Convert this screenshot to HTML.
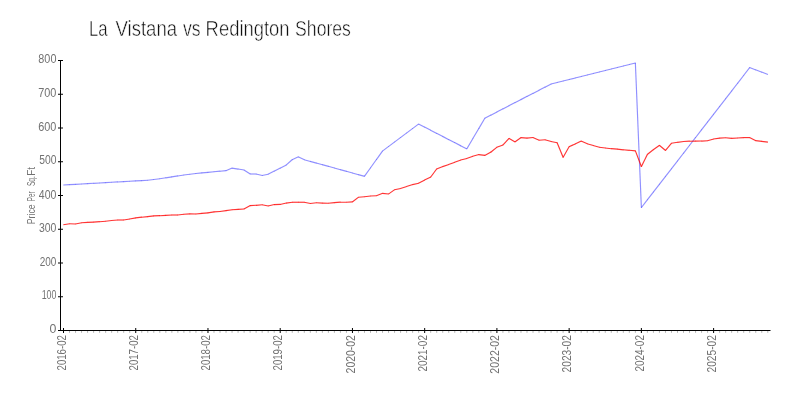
<!DOCTYPE html>
<html><head><meta charset="utf-8"><title>La Vistana vs Redington Shores</title>
<style>
html,body{margin:0;padding:0;background:#fff;}
body{width:800px;height:400px;overflow:hidden;font-family:"Liberation Sans",sans-serif;}
svg text{font-family:"Liberation Sans",sans-serif;}
.t{opacity:.999;}
</style></head><body>
<svg width="800" height="400" viewBox="0 0 800 400" style="display:block">
<rect width="800" height="400" fill="#fff"/>
<g class="t">
<text x="88.92" y="35.7" font-size="21.2" fill="#111" stroke="#fff" stroke-width="0.5" textLength="18.68" lengthAdjust="spacingAndGlyphs">La</text>
<text x="115.52" y="35.7" font-size="21.2" fill="#111" stroke="#fff" stroke-width="0.5" textLength="61.58" lengthAdjust="spacingAndGlyphs">Vistana</text>
<text x="183.04" y="35.7" font-size="21.2" fill="#111" stroke="#fff" stroke-width="0.5" textLength="17.60" lengthAdjust="spacingAndGlyphs">vs</text>
<text x="205.59" y="35.7" font-size="21.2" fill="#111" stroke="#fff" stroke-width="0.5" textLength="84.01" lengthAdjust="spacingAndGlyphs">Redington</text>
<text x="295.10" y="35.7" font-size="21.2" fill="#111" stroke="#fff" stroke-width="0.5" textLength="55.84" lengthAdjust="spacingAndGlyphs">Shores</text>
<g fill="#b4b4b4"><rect x="69.02" y="331" width="1" height="1.8"/><rect x="75.04" y="331" width="1" height="1.8"/><rect x="81.06" y="331" width="1" height="1.8"/><rect x="87.08" y="331" width="1" height="1.8"/><rect x="93.10" y="331" width="1" height="1.8"/><rect x="99.12" y="331" width="1" height="1.8"/><rect x="105.14" y="331" width="1" height="1.8"/><rect x="111.16" y="331" width="1" height="1.8"/><rect x="117.18" y="331" width="1" height="1.8"/><rect x="123.19" y="331" width="1" height="1.8"/><rect x="129.21" y="331" width="1" height="1.8"/><rect x="141.25" y="331" width="1" height="1.8"/><rect x="147.27" y="331" width="1" height="1.8"/><rect x="153.29" y="331" width="1" height="1.8"/><rect x="159.31" y="331" width="1" height="1.8"/><rect x="165.33" y="331" width="1" height="1.8"/><rect x="171.35" y="331" width="1" height="1.8"/><rect x="177.37" y="331" width="1" height="1.8"/><rect x="183.39" y="331" width="1" height="1.8"/><rect x="189.41" y="331" width="1" height="1.8"/><rect x="195.43" y="331" width="1" height="1.8"/><rect x="201.45" y="331" width="1" height="1.8"/><rect x="213.49" y="331" width="1" height="1.8"/><rect x="219.51" y="331" width="1" height="1.8"/><rect x="225.53" y="331" width="1" height="1.8"/><rect x="231.55" y="331" width="1" height="1.8"/><rect x="237.57" y="331" width="1" height="1.8"/><rect x="243.59" y="331" width="1" height="1.8"/><rect x="249.60" y="331" width="1" height="1.8"/><rect x="255.62" y="331" width="1" height="1.8"/><rect x="261.64" y="331" width="1" height="1.8"/><rect x="267.66" y="331" width="1" height="1.8"/><rect x="273.68" y="331" width="1" height="1.8"/><rect x="285.72" y="331" width="1" height="1.8"/><rect x="291.74" y="331" width="1" height="1.8"/><rect x="297.76" y="331" width="1" height="1.8"/><rect x="303.78" y="331" width="1" height="1.8"/><rect x="309.80" y="331" width="1" height="1.8"/><rect x="315.82" y="331" width="1" height="1.8"/><rect x="321.84" y="331" width="1" height="1.8"/><rect x="327.86" y="331" width="1" height="1.8"/><rect x="333.88" y="331" width="1" height="1.8"/><rect x="339.90" y="331" width="1" height="1.8"/><rect x="345.92" y="331" width="1" height="1.8"/><rect x="357.96" y="331" width="1" height="1.8"/><rect x="363.97" y="331" width="1" height="1.8"/><rect x="369.99" y="331" width="1" height="1.8"/><rect x="376.01" y="331" width="1" height="1.8"/><rect x="382.03" y="331" width="1" height="1.8"/><rect x="388.05" y="331" width="1" height="1.8"/><rect x="394.07" y="331" width="1" height="1.8"/><rect x="400.09" y="331" width="1" height="1.8"/><rect x="406.11" y="331" width="1" height="1.8"/><rect x="412.13" y="331" width="1" height="1.8"/><rect x="418.15" y="331" width="1" height="1.8"/><rect x="430.19" y="331" width="1" height="1.8"/><rect x="436.21" y="331" width="1" height="1.8"/><rect x="442.23" y="331" width="1" height="1.8"/><rect x="448.25" y="331" width="1" height="1.8"/><rect x="454.27" y="331" width="1" height="1.8"/><rect x="460.29" y="331" width="1" height="1.8"/><rect x="466.31" y="331" width="1" height="1.8"/><rect x="472.33" y="331" width="1" height="1.8"/><rect x="478.35" y="331" width="1" height="1.8"/><rect x="484.37" y="331" width="1" height="1.8"/><rect x="490.38" y="331" width="1" height="1.8"/><rect x="502.42" y="331" width="1" height="1.8"/><rect x="508.44" y="331" width="1" height="1.8"/><rect x="514.46" y="331" width="1" height="1.8"/><rect x="520.48" y="331" width="1" height="1.8"/><rect x="526.50" y="331" width="1" height="1.8"/><rect x="532.52" y="331" width="1" height="1.8"/><rect x="538.54" y="331" width="1" height="1.8"/><rect x="544.56" y="331" width="1" height="1.8"/><rect x="550.58" y="331" width="1" height="1.8"/><rect x="556.60" y="331" width="1" height="1.8"/><rect x="562.62" y="331" width="1" height="1.8"/><rect x="574.66" y="331" width="1" height="1.8"/><rect x="580.68" y="331" width="1" height="1.8"/><rect x="586.70" y="331" width="1" height="1.8"/><rect x="592.72" y="331" width="1" height="1.8"/><rect x="598.74" y="331" width="1" height="1.8"/><rect x="604.75" y="331" width="1" height="1.8"/><rect x="610.77" y="331" width="1" height="1.8"/><rect x="616.79" y="331" width="1" height="1.8"/><rect x="622.81" y="331" width="1" height="1.8"/><rect x="628.83" y="331" width="1" height="1.8"/><rect x="634.85" y="331" width="1" height="1.8"/><rect x="646.89" y="331" width="1" height="1.8"/><rect x="652.91" y="331" width="1" height="1.8"/><rect x="658.93" y="331" width="1" height="1.8"/><rect x="664.95" y="331" width="1" height="1.8"/><rect x="670.97" y="331" width="1" height="1.8"/><rect x="676.99" y="331" width="1" height="1.8"/><rect x="683.01" y="331" width="1" height="1.8"/><rect x="689.03" y="331" width="1" height="1.8"/><rect x="695.05" y="331" width="1" height="1.8"/><rect x="701.07" y="331" width="1" height="1.8"/><rect x="707.09" y="331" width="1" height="1.8"/><rect x="719.13" y="331" width="1" height="1.8"/><rect x="725.14" y="331" width="1" height="1.8"/><rect x="731.16" y="331" width="1" height="1.8"/><rect x="737.18" y="331" width="1" height="1.8"/><rect x="743.20" y="331" width="1" height="1.8"/><rect x="749.22" y="331" width="1" height="1.8"/><rect x="755.24" y="331" width="1" height="1.8"/><rect x="761.26" y="331" width="1" height="1.8"/><rect x="767.28" y="331" width="1" height="1.8"/></g>
<g fill="#000">
<rect x="60" y="60" width="1" height="271"/>
<rect x="58" y="330" width="712.5" height="1"/>
<rect x="58" y="330.00" width="5" height="1"/>
<rect x="58" y="296.25" width="5" height="1"/>
<rect x="58" y="262.50" width="5" height="1"/>
<rect x="58" y="228.75" width="5" height="1"/>
<rect x="58" y="195.00" width="5" height="1"/>
<rect x="58" y="161.25" width="5" height="1"/>
<rect x="58" y="127.50" width="5" height="1"/>
<rect x="58" y="93.75" width="5" height="1"/>
<rect x="58" y="60.00" width="5" height="1"/>
<rect x="63.00" y="328" width="1" height="5"/>
<rect x="135.23" y="328" width="1" height="5"/>
<rect x="207.47" y="328" width="1" height="5"/>
<rect x="279.70" y="328" width="1" height="5"/>
<rect x="351.94" y="328" width="1" height="5"/>
<rect x="424.17" y="328" width="1" height="5"/>
<rect x="496.40" y="328" width="1" height="5"/>
<rect x="568.64" y="328" width="1" height="5"/>
<rect x="640.87" y="328" width="1" height="5"/>
<rect x="713.11" y="328" width="1" height="5"/>
</g>
<g font-size="12.5" fill="#727272" >
<text x="38.33" y="63" textLength="18.09" lengthAdjust="spacingAndGlyphs">800</text>
<text x="38.24" y="97" textLength="18.18" lengthAdjust="spacingAndGlyphs">700</text>
<text x="38.25" y="131" textLength="18.18" lengthAdjust="spacingAndGlyphs">600</text>
<text x="39.19" y="164" textLength="17.22" lengthAdjust="spacingAndGlyphs">500</text>
<text x="38.86" y="199" textLength="17.55" lengthAdjust="spacingAndGlyphs">400</text>
<text x="38.90" y="232" textLength="17.51" lengthAdjust="spacingAndGlyphs">300</text>
<text x="39.70" y="266" textLength="16.69" lengthAdjust="spacingAndGlyphs">200</text>
<text x="41.63" y="299" textLength="14.72" lengthAdjust="spacingAndGlyphs">100</text>
<text x="49.62" y="333" textLength="6.86" lengthAdjust="spacingAndGlyphs">0</text>
</g>
<g font-size="12.5" fill="#727272" >
<text transform="translate(66,370.48) rotate(-90)" textLength="35.37" lengthAdjust="spacingAndGlyphs">2016-02</text>
<text transform="translate(138,370.48) rotate(-90)" textLength="35.37" lengthAdjust="spacingAndGlyphs">2017-02</text>
<text transform="translate(210,370.48) rotate(-90)" textLength="35.37" lengthAdjust="spacingAndGlyphs">2018-02</text>
<text transform="translate(282,370.48) rotate(-90)" textLength="35.37" lengthAdjust="spacingAndGlyphs">2019-02</text>
<text transform="translate(355,373.43) rotate(-90)" textLength="38.35" lengthAdjust="spacingAndGlyphs">2020-02</text>
<text transform="translate(427,371.50) rotate(-90)" textLength="36.40" lengthAdjust="spacingAndGlyphs">2021-02</text>
<text transform="translate(499,373.63) rotate(-90)" textLength="38.56" lengthAdjust="spacingAndGlyphs">2022-02</text>
<text transform="translate(571,372.41) rotate(-90)" textLength="37.32" lengthAdjust="spacingAndGlyphs">2023-02</text>
<text transform="translate(644,371.50) rotate(-90)" textLength="36.40" lengthAdjust="spacingAndGlyphs">2024-02</text>
<text transform="translate(716,372.51) rotate(-90)" textLength="37.43" lengthAdjust="spacingAndGlyphs">2025-02</text>
</g>
<g font-size="11.6" fill="#727272" >
<text transform="translate(35.4,224.22) rotate(-90)" textLength="19.90" lengthAdjust="spacingAndGlyphs">Price</text>
<text transform="translate(35.4,201.21) rotate(-90)" textLength="9.72" lengthAdjust="spacingAndGlyphs">Per</text>
<text transform="translate(35.4,186.10) rotate(-90)" textLength="10.01" lengthAdjust="spacingAndGlyphs">Sq.</text>
<text transform="translate(35.4,175.71) rotate(-90)" textLength="8.78" lengthAdjust="spacingAndGlyphs">Ft</text>
</g>
</g>
<g stroke="rgba(0,0,255,0.44)" stroke-width="1.15" stroke-linecap="butt" fill="none"><line x1="63.32" y1="185.01" x2="69.70" y2="184.65"/><line x1="69.34" y1="184.67" x2="75.72" y2="184.31"/><line x1="75.36" y1="184.33" x2="81.74" y2="183.97"/><line x1="81.38" y1="183.99" x2="87.76" y2="183.63"/><line x1="87.40" y1="183.65" x2="93.78" y2="183.29"/><line x1="93.42" y1="183.31" x2="99.80" y2="182.95"/><line x1="99.44" y1="182.97" x2="105.82" y2="182.61"/><line x1="105.46" y1="182.64" x2="111.84" y2="182.28"/><line x1="111.48" y1="182.30" x2="117.86" y2="181.94"/><line x1="117.50" y1="181.96" x2="123.87" y2="181.60"/><line x1="123.52" y1="181.62" x2="129.89" y2="181.26"/><line x1="129.53" y1="181.28" x2="135.91" y2="180.92"/><line x1="135.55" y1="180.94" x2="141.93" y2="180.58"/><line x1="141.57" y1="180.60" x2="147.95" y2="180.24"/><line x1="147.59" y1="180.27" x2="153.97" y2="179.48"/><line x1="153.61" y1="179.52" x2="159.99" y2="178.73"/><line x1="159.63" y1="178.78" x2="166.01" y2="177.78"/><line x1="165.65" y1="177.84" x2="172.03" y2="176.85"/><line x1="171.67" y1="176.90" x2="178.05" y2="175.91"/><line x1="177.69" y1="175.97" x2="184.07" y2="174.97"/><line x1="183.71" y1="175.02" x2="190.09" y2="174.23"/><line x1="189.73" y1="174.27" x2="196.11" y2="173.48"/><line x1="195.75" y1="173.52" x2="202.13" y2="172.90"/><line x1="201.77" y1="172.94" x2="208.15" y2="172.32"/><line x1="207.79" y1="172.36" x2="214.17" y2="171.74"/><line x1="213.81" y1="171.78" x2="220.19" y2="171.16"/><line x1="219.83" y1="171.20" x2="226.21" y2="170.58"/><line x1="225.86" y1="170.67" x2="232.21" y2="168.03"/><line x1="231.87" y1="168.07" x2="238.24" y2="169.08"/><line x1="237.89" y1="169.02" x2="244.26" y2="170.03"/><line x1="243.94" y1="169.90" x2="250.25" y2="174.10"/><line x1="249.92" y1="174.00" x2="256.30" y2="174.00"/><line x1="255.95" y1="173.96" x2="262.32" y2="175.54"/><line x1="261.97" y1="175.54" x2="268.34" y2="174.21"/><line x1="268.00" y1="174.33" x2="274.34" y2="171.08"/><line x1="274.02" y1="171.25" x2="280.36" y2="168.00"/><line x1="280.04" y1="168.17" x2="286.38" y2="164.92"/><line x1="286.09" y1="165.12" x2="292.37" y2="159.48"/><line x1="292.08" y1="159.67" x2="298.42" y2="156.83"/><line x1="298.10" y1="156.82" x2="304.44" y2="159.83"/><line x1="304.11" y1="159.70" x2="310.47" y2="161.45"/><line x1="310.13" y1="161.36" x2="316.49" y2="163.11"/><line x1="316.15" y1="163.01" x2="322.51" y2="164.76"/><line x1="322.16" y1="164.67" x2="328.53" y2="166.42"/><line x1="328.18" y1="166.32" x2="334.55" y2="168.07"/><line x1="334.20" y1="167.98" x2="340.57" y2="169.73"/><line x1="340.22" y1="169.63" x2="346.59" y2="171.38"/><line x1="346.24" y1="171.29" x2="352.61" y2="173.04"/><line x1="352.26" y1="172.94" x2="358.63" y2="174.69"/><line x1="358.28" y1="174.60" x2="364.65" y2="176.35"/><line x1="364.37" y1="176.45" x2="370.60" y2="167.72"/><line x1="370.39" y1="168.01" x2="376.62" y2="159.29"/><line x1="376.41" y1="159.58" x2="382.64" y2="150.85"/><line x1="382.39" y1="151.11" x2="388.70" y2="146.39"/><line x1="388.41" y1="146.61" x2="394.72" y2="141.89"/><line x1="394.43" y1="142.11" x2="400.74" y2="137.39"/><line x1="400.45" y1="137.61" x2="406.76" y2="132.89"/><line x1="406.47" y1="133.11" x2="412.78" y2="128.39"/><line x1="412.49" y1="128.61" x2="418.79" y2="123.89"/><line x1="418.49" y1="123.92" x2="424.83" y2="127.20"/><line x1="424.51" y1="127.03" x2="430.85" y2="130.31"/><line x1="430.53" y1="130.14" x2="436.87" y2="133.42"/><line x1="436.55" y1="133.25" x2="442.89" y2="136.53"/><line x1="442.57" y1="136.37" x2="448.91" y2="139.65"/><line x1="448.59" y1="139.48" x2="454.93" y2="142.76"/><line x1="454.61" y1="142.59" x2="460.95" y2="145.87"/><line x1="460.63" y1="145.70" x2="466.97" y2="148.98"/><line x1="466.72" y1="149.06" x2="472.92" y2="138.51"/><line x1="472.73" y1="138.82" x2="478.94" y2="128.28"/><line x1="478.75" y1="128.59" x2="484.96" y2="118.04"/><line x1="484.71" y1="118.28" x2="491.04" y2="115.01"/><line x1="490.72" y1="115.17" x2="497.06" y2="111.90"/><line x1="496.74" y1="112.06" x2="503.08" y2="108.79"/><line x1="502.76" y1="108.96" x2="509.10" y2="105.68"/><line x1="508.78" y1="105.85" x2="515.12" y2="102.57"/><line x1="514.80" y1="102.74" x2="521.14" y2="99.46"/><line x1="520.82" y1="99.63" x2="527.16" y2="96.35"/><line x1="526.84" y1="96.52" x2="533.18" y2="93.24"/><line x1="532.86" y1="93.41" x2="539.20" y2="90.14"/><line x1="538.88" y1="90.30" x2="545.22" y2="87.03"/><line x1="544.90" y1="87.19" x2="551.24" y2="83.92"/><line x1="550.90" y1="84.04" x2="557.27" y2="82.46"/><line x1="556.92" y1="82.54" x2="563.29" y2="80.96"/><line x1="562.94" y1="81.04" x2="569.31" y2="79.46"/><line x1="568.96" y1="79.54" x2="575.33" y2="77.96"/><line x1="574.98" y1="78.04" x2="581.35" y2="76.46"/><line x1="581.00" y1="76.54" x2="587.37" y2="74.96"/><line x1="587.02" y1="75.04" x2="593.39" y2="73.46"/><line x1="593.04" y1="73.54" x2="599.41" y2="71.96"/><line x1="599.06" y1="72.04" x2="605.43" y2="70.46"/><line x1="605.08" y1="70.54" x2="611.45" y2="68.96"/><line x1="611.10" y1="69.04" x2="617.47" y2="67.46"/><line x1="617.12" y1="67.54" x2="623.49" y2="65.96"/><line x1="623.14" y1="66.04" x2="629.51" y2="64.46"/><line x1="629.16" y1="64.54" x2="635.53" y2="62.96"/><line x1="635.35" y1="62.82" x2="641.38" y2="207.78"/><line x1="641.26" y1="207.74" x2="647.50" y2="199.68"/><line x1="647.28" y1="199.96" x2="653.52" y2="191.90"/><line x1="653.30" y1="192.19" x2="659.54" y2="184.12"/><line x1="659.32" y1="184.41" x2="665.56" y2="176.35"/><line x1="665.34" y1="176.63" x2="671.58" y2="168.57"/><line x1="671.36" y1="168.85" x2="677.60" y2="160.79"/><line x1="677.38" y1="161.08" x2="683.62" y2="153.01"/><line x1="683.40" y1="153.30" x2="689.64" y2="145.24"/><line x1="689.42" y1="145.52" x2="695.66" y2="137.46"/><line x1="695.44" y1="137.74" x2="701.68" y2="129.68"/><line x1="701.46" y1="129.96" x2="707.70" y2="121.90"/><line x1="707.48" y1="122.19" x2="713.72" y2="114.12"/><line x1="713.50" y1="114.41" x2="719.74" y2="106.35"/><line x1="719.52" y1="106.63" x2="725.76" y2="98.57"/><line x1="725.53" y1="98.85" x2="731.77" y2="90.79"/><line x1="731.55" y1="91.08" x2="737.79" y2="83.01"/><line x1="737.57" y1="83.30" x2="743.81" y2="75.24"/><line x1="743.59" y1="75.52" x2="749.83" y2="67.46"/><line x1="749.55" y1="67.54" x2="755.91" y2="69.93"/><line x1="755.57" y1="69.80" x2="761.93" y2="72.20"/><line x1="761.59" y1="72.07" x2="767.95" y2="74.46"/></g>
<g stroke="rgba(255,0,0,0.8)" stroke-width="1.15" stroke-linecap="butt" fill="none"><line x1="63.32" y1="224.78" x2="69.70" y2="223.72"/><line x1="69.34" y1="223.74" x2="75.72" y2="224.01"/><line x1="75.36" y1="224.04" x2="81.73" y2="222.71"/><line x1="81.38" y1="222.76" x2="87.76" y2="222.39"/><line x1="87.40" y1="222.41" x2="93.78" y2="222.09"/><line x1="93.42" y1="222.11" x2="99.80" y2="221.69"/><line x1="99.44" y1="221.71" x2="105.82" y2="221.24"/><line x1="105.46" y1="221.27" x2="111.83" y2="220.48"/><line x1="111.48" y1="220.51" x2="117.85" y2="219.99"/><line x1="117.50" y1="220.00" x2="123.88" y2="220.00"/><line x1="123.52" y1="220.03" x2="129.89" y2="218.97"/><line x1="129.54" y1="219.03" x2="135.91" y2="217.87"/><line x1="135.56" y1="217.92" x2="141.93" y2="217.18"/><line x1="141.57" y1="217.22" x2="147.95" y2="216.58"/><line x1="147.59" y1="216.62" x2="153.97" y2="215.88"/><line x1="153.61" y1="215.91" x2="159.99" y2="215.69"/><line x1="159.63" y1="215.71" x2="166.01" y2="215.39"/><line x1="165.65" y1="215.41" x2="172.03" y2="214.99"/><line x1="171.67" y1="215.00" x2="178.05" y2="215.00"/><line x1="177.69" y1="215.02" x2="184.07" y2="214.23"/><line x1="183.71" y1="214.26" x2="190.09" y2="213.89"/><line x1="189.73" y1="213.90" x2="196.11" y2="214.00"/><line x1="195.75" y1="214.02" x2="202.13" y2="213.38"/><line x1="201.77" y1="213.41" x2="208.15" y2="212.89"/><line x1="207.79" y1="212.93" x2="214.17" y2="211.87"/><line x1="213.81" y1="211.91" x2="220.19" y2="211.49"/><line x1="219.83" y1="211.53" x2="226.20" y2="210.57"/><line x1="225.85" y1="210.63" x2="232.22" y2="209.72"/><line x1="231.87" y1="209.76" x2="238.25" y2="209.39"/><line x1="237.89" y1="209.41" x2="244.26" y2="208.99"/><line x1="243.93" y1="209.09" x2="250.26" y2="205.51"/><line x1="249.92" y1="205.61" x2="256.30" y2="205.29"/><line x1="255.94" y1="205.31" x2="262.32" y2="204.79"/><line x1="261.97" y1="204.76" x2="268.34" y2="206.04"/><line x1="267.99" y1="206.04" x2="274.36" y2="204.56"/><line x1="274.00" y1="204.61" x2="280.38" y2="204.39"/><line x1="280.03" y1="204.44" x2="286.40" y2="203.06"/><line x1="286.04" y1="203.13" x2="292.42" y2="202.22"/><line x1="292.06" y1="202.25" x2="298.44" y2="202.25"/><line x1="298.08" y1="202.25" x2="304.46" y2="202.25"/><line x1="304.10" y1="202.21" x2="310.48" y2="203.54"/><line x1="310.12" y1="203.52" x2="316.50" y2="202.73"/><line x1="316.14" y1="202.74" x2="322.52" y2="203.11"/><line x1="322.16" y1="203.10" x2="328.54" y2="203.25"/><line x1="328.18" y1="203.27" x2="334.56" y2="202.58"/><line x1="334.20" y1="202.61" x2="340.58" y2="202.19"/><line x1="340.22" y1="202.20" x2="346.60" y2="202.25"/><line x1="346.24" y1="202.26" x2="352.62" y2="201.89"/><line x1="352.29" y1="202.01" x2="358.60" y2="197.14"/><line x1="358.28" y1="197.26" x2="364.65" y2="196.74"/><line x1="364.30" y1="196.77" x2="370.67" y2="195.98"/><line x1="370.31" y1="196.01" x2="376.69" y2="195.74"/><line x1="376.35" y1="195.82" x2="382.70" y2="193.33"/><line x1="382.35" y1="193.38" x2="388.73" y2="194.02"/><line x1="388.41" y1="194.10" x2="394.72" y2="189.65"/><line x1="394.40" y1="189.79" x2="400.77" y2="188.46"/><line x1="400.42" y1="188.56" x2="406.78" y2="186.44"/><line x1="406.44" y1="186.55" x2="412.80" y2="184.55"/><line x1="412.46" y1="184.64" x2="418.83" y2="183.21"/><line x1="418.49" y1="183.34" x2="424.83" y2="179.91"/><line x1="424.51" y1="180.08" x2="430.85" y2="177.02"/><line x1="430.58" y1="177.25" x2="436.82" y2="168.75"/><line x1="436.54" y1="168.96" x2="442.90" y2="166.54"/><line x1="442.56" y1="166.66" x2="448.92" y2="164.44"/><line x1="448.58" y1="164.56" x2="454.94" y2="162.19"/><line x1="454.60" y1="162.31" x2="460.96" y2="159.94"/><line x1="460.61" y1="160.04" x2="466.98" y2="158.46"/><line x1="466.64" y1="158.56" x2="472.99" y2="156.19"/><line x1="472.65" y1="156.30" x2="479.02" y2="154.55"/><line x1="478.67" y1="154.58" x2="485.04" y2="155.42"/><line x1="484.71" y1="155.49" x2="491.04" y2="152.01"/><line x1="490.74" y1="152.21" x2="497.04" y2="147.14"/><line x1="496.74" y1="147.31" x2="503.09" y2="144.94"/><line x1="502.80" y1="145.13" x2="509.06" y2="138.27"/><line x1="508.79" y1="138.31" x2="515.12" y2="141.99"/><line x1="514.82" y1="142.00" x2="521.13" y2="137.50"/><line x1="520.80" y1="137.59" x2="527.18" y2="138.06"/><line x1="526.82" y1="138.07" x2="533.20" y2="137.48"/><line x1="532.86" y1="137.43" x2="539.20" y2="140.32"/><line x1="538.86" y1="140.26" x2="545.24" y2="139.74"/><line x1="544.89" y1="139.70" x2="551.25" y2="141.55"/><line x1="550.90" y1="141.46" x2="557.28" y2="142.79"/><line x1="557.03" y1="142.58" x2="563.19" y2="157.42"/><line x1="563.03" y1="157.41" x2="569.23" y2="146.44"/><line x1="568.97" y1="146.67" x2="575.32" y2="143.93"/><line x1="575.00" y1="144.08" x2="581.34" y2="140.92"/><line x1="581.01" y1="140.93" x2="587.36" y2="143.82"/><line x1="587.02" y1="143.70" x2="593.39" y2="145.55"/><line x1="593.04" y1="145.45" x2="599.41" y2="147.30"/><line x1="599.06" y1="147.23" x2="605.43" y2="148.02"/><line x1="605.08" y1="147.98" x2="611.45" y2="148.72"/><line x1="611.09" y1="148.69" x2="617.47" y2="149.11"/><line x1="617.12" y1="149.08" x2="623.49" y2="149.82"/><line x1="623.13" y1="149.79" x2="629.51" y2="150.31"/><line x1="629.15" y1="150.29" x2="635.53" y2="150.81"/><line x1="635.29" y1="150.63" x2="641.44" y2="166.67"/><line x1="641.29" y1="166.66" x2="647.47" y2="154.24"/><line x1="647.25" y1="154.51" x2="653.55" y2="149.49"/><line x1="653.26" y1="149.70" x2="659.58" y2="145.30"/><line x1="659.29" y1="145.28" x2="665.59" y2="150.52"/><line x1="665.33" y1="150.54" x2="671.59" y2="143.11"/><line x1="671.29" y1="143.28" x2="677.67" y2="142.27"/><line x1="677.31" y1="142.32" x2="683.69" y2="141.48"/><line x1="683.33" y1="141.51" x2="689.71" y2="141.19"/><line x1="689.35" y1="141.20" x2="695.73" y2="141.10"/><line x1="695.37" y1="141.10" x2="701.75" y2="141.05"/><line x1="701.39" y1="141.06" x2="707.77" y2="140.74"/><line x1="707.41" y1="140.80" x2="713.78" y2="138.95"/><line x1="713.43" y1="139.03" x2="719.80" y2="138.07"/><line x1="719.45" y1="138.11" x2="725.82" y2="137.74"/><line x1="725.47" y1="137.73" x2="731.84" y2="138.42"/><line x1="731.48" y1="138.41" x2="737.86" y2="137.99"/><line x1="737.50" y1="138.01" x2="743.88" y2="137.59"/><line x1="743.52" y1="137.60" x2="749.90" y2="137.60"/><line x1="749.56" y1="137.52" x2="755.90" y2="140.68"/><line x1="755.56" y1="140.58" x2="761.94" y2="141.42"/><line x1="761.58" y1="141.38" x2="767.96" y2="142.12"/></g>
</svg>
</body></html>
